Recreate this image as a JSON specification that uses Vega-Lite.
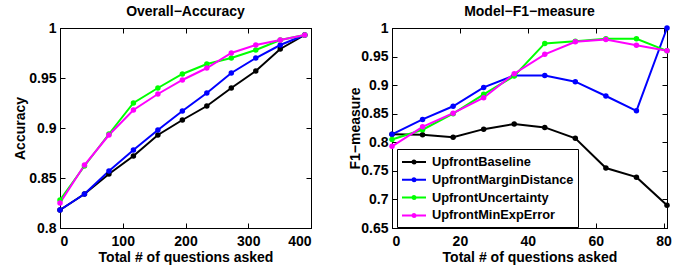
{
  "$schema": "https://vega.github.io/schema/vega-lite/v6.json",
  "padding": {"left": 13, "top": 4, "right": 6, "bottom": 2},
  "spacing": 36,
  "datasets": {
    "acc": [
      {"q": 0, "m": "UpfrontBaseline", "v": 0.818}, {"q": 39, "m": "UpfrontBaseline", "v": 0.834}, {"q": 78, "m": "UpfrontBaseline", "v": 0.854}, {"q": 117, "m": "UpfrontBaseline", "v": 0.872}, {"q": 156, "m": "UpfrontBaseline", "v": 0.893}, {"q": 195, "m": "UpfrontBaseline", "v": 0.908}, {"q": 234, "m": "UpfrontBaseline", "v": 0.922}, {"q": 273, "m": "UpfrontBaseline", "v": 0.94}, {"q": 312, "m": "UpfrontBaseline", "v": 0.957}, {"q": 351, "m": "UpfrontBaseline", "v": 0.979}, {"q": 390, "m": "UpfrontBaseline", "v": 0.993},
      {"q": 0, "m": "UpfrontMarginDistance", "v": 0.818}, {"q": 39, "m": "UpfrontMarginDistance", "v": 0.834}, {"q": 78, "m": "UpfrontMarginDistance", "v": 0.857}, {"q": 117, "m": "UpfrontMarginDistance", "v": 0.878}, {"q": 156, "m": "UpfrontMarginDistance", "v": 0.898}, {"q": 195, "m": "UpfrontMarginDistance", "v": 0.917}, {"q": 234, "m": "UpfrontMarginDistance", "v": 0.935}, {"q": 273, "m": "UpfrontMarginDistance", "v": 0.955}, {"q": 312, "m": "UpfrontMarginDistance", "v": 0.97}, {"q": 351, "m": "UpfrontMarginDistance", "v": 0.983}, {"q": 390, "m": "UpfrontMarginDistance", "v": 0.993},
      {"q": 0, "m": "UpfrontUncertainty", "v": 0.828}, {"q": 39, "m": "UpfrontUncertainty", "v": 0.862}, {"q": 78, "m": "UpfrontUncertainty", "v": 0.894}, {"q": 117, "m": "UpfrontUncertainty", "v": 0.925}, {"q": 156, "m": "UpfrontUncertainty", "v": 0.94}, {"q": 195, "m": "UpfrontUncertainty", "v": 0.954}, {"q": 234, "m": "UpfrontUncertainty", "v": 0.964}, {"q": 273, "m": "UpfrontUncertainty", "v": 0.97}, {"q": 312, "m": "UpfrontUncertainty", "v": 0.978}, {"q": 351, "m": "UpfrontUncertainty", "v": 0.988}, {"q": 390, "m": "UpfrontUncertainty", "v": 0.993},
      {"q": 0, "m": "UpfrontMinExpError", "v": 0.825}, {"q": 39, "m": "UpfrontMinExpError", "v": 0.863}, {"q": 78, "m": "UpfrontMinExpError", "v": 0.893}, {"q": 117, "m": "UpfrontMinExpError", "v": 0.918}, {"q": 156, "m": "UpfrontMinExpError", "v": 0.934}, {"q": 195, "m": "UpfrontMinExpError", "v": 0.948}, {"q": 234, "m": "UpfrontMinExpError", "v": 0.96}, {"q": 273, "m": "UpfrontMinExpError", "v": 0.975}, {"q": 312, "m": "UpfrontMinExpError", "v": 0.983}, {"q": 351, "m": "UpfrontMinExpError", "v": 0.988}, {"q": 390, "m": "UpfrontMinExpError", "v": 0.993}
    ],
    "f1": [
      {"q": 0, "m": "UpfrontBaseline", "v": 0.814}, {"q": 9, "m": "UpfrontBaseline", "v": 0.813}, {"q": 18, "m": "UpfrontBaseline", "v": 0.809}, {"q": 27, "m": "UpfrontBaseline", "v": 0.823}, {"q": 36, "m": "UpfrontBaseline", "v": 0.832}, {"q": 45, "m": "UpfrontBaseline", "v": 0.826}, {"q": 54, "m": "UpfrontBaseline", "v": 0.807}, {"q": 63, "m": "UpfrontBaseline", "v": 0.755}, {"q": 72, "m": "UpfrontBaseline", "v": 0.739}, {"q": 81, "m": "UpfrontBaseline", "v": 0.69},
      {"q": 0, "m": "UpfrontMarginDistance", "v": 0.814}, {"q": 9, "m": "UpfrontMarginDistance", "v": 0.84}, {"q": 18, "m": "UpfrontMarginDistance", "v": 0.863}, {"q": 27, "m": "UpfrontMarginDistance", "v": 0.896}, {"q": 36, "m": "UpfrontMarginDistance", "v": 0.917}, {"q": 45, "m": "UpfrontMarginDistance", "v": 0.917}, {"q": 54, "m": "UpfrontMarginDistance", "v": 0.906}, {"q": 63, "m": "UpfrontMarginDistance", "v": 0.881}, {"q": 72, "m": "UpfrontMarginDistance", "v": 0.855}, {"q": 81, "m": "UpfrontMarginDistance", "v": 1.0},
      {"q": 0, "m": "UpfrontUncertainty", "v": 0.805}, {"q": 9, "m": "UpfrontUncertainty", "v": 0.822}, {"q": 18, "m": "UpfrontUncertainty", "v": 0.85}, {"q": 27, "m": "UpfrontUncertainty", "v": 0.884}, {"q": 36, "m": "UpfrontUncertainty", "v": 0.916}, {"q": 45, "m": "UpfrontUncertainty", "v": 0.973}, {"q": 54, "m": "UpfrontUncertainty", "v": 0.977}, {"q": 63, "m": "UpfrontUncertainty", "v": 0.981}, {"q": 72, "m": "UpfrontUncertainty", "v": 0.981}, {"q": 81, "m": "UpfrontUncertainty", "v": 0.96},
      {"q": 0, "m": "UpfrontMinExpError", "v": 0.793}, {"q": 9, "m": "UpfrontMinExpError", "v": 0.827}, {"q": 18, "m": "UpfrontMinExpError", "v": 0.851}, {"q": 27, "m": "UpfrontMinExpError", "v": 0.878}, {"q": 36, "m": "UpfrontMinExpError", "v": 0.92}, {"q": 45, "m": "UpfrontMinExpError", "v": 0.954}, {"q": 54, "m": "UpfrontMinExpError", "v": 0.976}, {"q": 63, "m": "UpfrontMinExpError", "v": 0.98}, {"q": 72, "m": "UpfrontMinExpError", "v": 0.97}, {"q": 81, "m": "UpfrontMinExpError", "v": 0.96}
    ]
  },
  "resolve": {"scale": {"color": "independent"}, "legend": {"color": "independent"}},
  "hconcat": [
    {
      "title": "Overall\u2212Accuracy",
      "width": 251,
      "height": 200,
      "data": {"name": "acc"},
      "resolve": {"axis": {"x": "independent", "y": "independent"}},
      "layer": [
        {
          "mark": {"type": "line", "strokeWidth": 2, "point": {"filled": true, "size": 30}},
          "encoding": {
            "x": {"field": "q", "type": "quantitative", "scale": {"domain": [0, 400], "nice": false},
                  "axis": {"values": [0, 100, 200, 300, 400], "title": "Total # of questions asked"}},
            "y": {"field": "v", "type": "quantitative", "scale": {"domain": [0.8, 1], "nice": false, "zero": false},
                  "axis": {"values": [0.8, 0.85, 0.9, 0.95, 1], "format": ".2~f", "title": "Accuracy", "titlePadding": 1, "labelPadding": 9}},
            "color": {"field": "m", "type": "nominal", "legend": null,
                      "scale": {"domain": ["UpfrontBaseline", "UpfrontMarginDistance", "UpfrontUncertainty", "UpfrontMinExpError"], "range": ["#000000", "#0000ff", "#00ff00", "#ff00ff"]}},
            "order": {"field": "q", "type": "quantitative"}
          }
        },
        {
          "mark": {"type": "line", "opacity": 0},
          "encoding": {
            "x": {"field": "q", "type": "quantitative", "axis": {"orient": "top", "values": [0, 100, 200, 300, 400], "labels": false, "title": null}},
            "y": {"field": "v", "type": "quantitative", "axis": {"orient": "right", "values": [0.8, 0.85, 0.9, 0.95, 1], "labels": false, "title": null}}
          }
        }
      ]
    },
    {
      "title": "Model\u2212F1\u2212measure",
      "width": 275,
      "height": 200,
      "data": {"name": "f1"},
      "resolve": {"axis": {"x": "independent", "y": "independent"}},
      "layer": [
        {
          "mark": {"type": "line", "strokeWidth": 2, "point": {"filled": true, "size": 30}},
          "encoding": {
            "x": {"field": "q", "type": "quantitative", "scale": {"domain": [0, 81], "nice": false},
                  "axis": {"values": [0, 20, 40, 60, 80], "title": "Total # of questions asked"}},
            "y": {"field": "v", "type": "quantitative", "scale": {"domain": [0.65, 1], "nice": false, "zero": false},
                  "axis": {"values": [0.65, 0.7, 0.75, 0.8, 0.85, 0.9, 0.95, 1], "format": ".2~f", "title": "F1\u2212measure", "titlePadding": -2, "labelPadding": 9}},
            "color": {"field": "m", "type": "nominal",
                      "scale": {"domain": ["UpfrontBaseline", "UpfrontMarginDistance", "UpfrontUncertainty", "UpfrontMinExpError"], "range": ["#000000", "#0000ff", "#00ff00", "#ff00ff"]},
                      "legend": {"orient": "none", "legendX": 5, "legendY": 121, "title": null,
                                 "symbolType": "M-1,0L2,0M0.3125,0A0.1875,0.1875,0,1,0,0.6875,0A0.1875,0.1875,0,1,0,0.3125,0",
                                 "symbolSize": 256, "symbolStrokeWidth": 2, "symbolOpacity": 1,
                                 "labelFont": "Liberation Sans", "labelFontWeight": "bold", "labelFontSize": 12.8, "labelColor": "black",
                                 "strokeColor": "black", "fillColor": "white", "padding": 4, "rowPadding": 1.8, "labelOffset": 13, "cornerRadius": 0}},
            "order": {"field": "q", "type": "quantitative"}
          }
        },
        {
          "mark": {"type": "line", "opacity": 0},
          "encoding": {
            "x": {"field": "q", "type": "quantitative", "axis": {"orient": "top", "values": [0, 20, 40, 60, 80], "labels": false, "title": null}},
            "y": {"field": "v", "type": "quantitative", "axis": {"orient": "right", "values": [0.65, 0.7, 0.75, 0.8, 0.85, 0.9, 0.95, 1], "labels": false, "title": null}}
          }
        }
      ]
    }
  ],
  "config": {
    "font": "Liberation Sans",
    "view": {"stroke": "black", "strokeWidth": 1},
    "axis": {
      "labelFont": "Liberation Sans", "labelFontWeight": "bold", "labelFontSize": 14, "labelColor": "black",
      "titleFont": "Liberation Sans", "titleFontWeight": "bold", "titleFontSize": 14, "titleColor": "black",
      "domainColor": "black", "tickColor": "black", "tickSize": -5, "grid": false, "labelPadding": 11, "titlePadding": 2
    },
    "title": {"font": "Liberation Sans", "fontSize": 14, "fontWeight": "bold", "color": "black", "offset": 2}
  }
}
